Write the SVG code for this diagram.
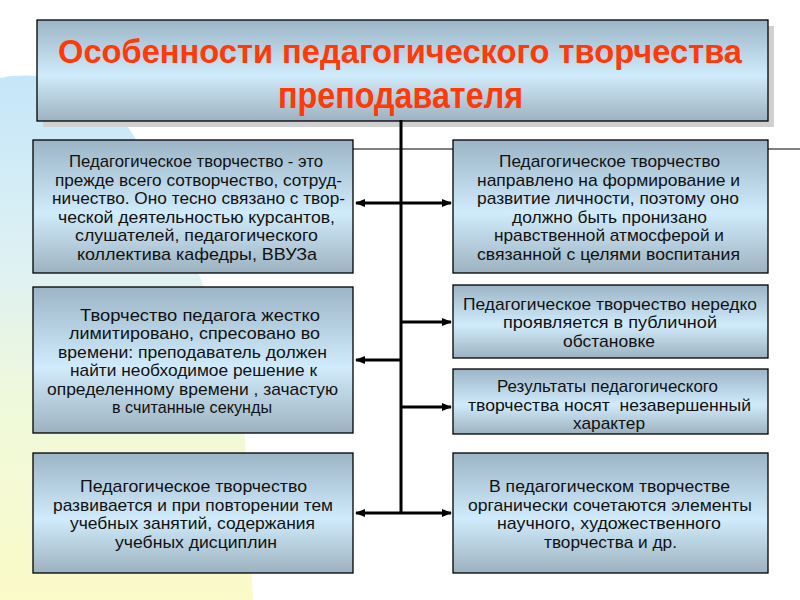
<svg xmlns="http://www.w3.org/2000/svg" width="800" height="600" viewBox="0 0 800 600">
<defs>
<linearGradient id="bg" x1="0" y1="0" x2="0" y2="1">
<stop offset="0" stop-color="#c6e6f9"/>
<stop offset="0.35" stop-color="#ddf1f4"/>
<stop offset="0.6" stop-color="#eef8dc"/>
<stop offset="1" stop-color="#fbfbc8"/>
</linearGradient>
<linearGradient id="box" x1="0" y1="0" x2="0" y2="1">
<stop offset="0" stop-color="#9bb5c7"/>
<stop offset="0.55" stop-color="#d0ebfb"/>
<stop offset="1" stop-color="#9db2c0"/>
</linearGradient>
<marker id="ah" markerUnits="userSpaceOnUse" markerWidth="10" markerHeight="10" viewBox="0 0 10 10" refX="9" refY="5" orient="auto-start-reverse">
<path d="M0,1 L10,5 L0,9 Z" fill="#000"/>
</marker>
<style>
.bx{fill:url(#box);stroke:#000;stroke-width:1.3}
.t{font-family:"Liberation Sans",Arial,sans-serif;font-size:17px;fill:#111;text-anchor:middle}
.ttl{font-family:"Liberation Sans",Arial,sans-serif;font-size:36px;font-weight:bold;fill:#ff3a08;text-anchor:middle}
.c{fill:none;stroke:#000;stroke-width:3}
</style>
</defs>
<rect width="800" height="600" fill="#fff"/>
<path d="M0,78 C50,68 100,90 130,130 C170,190 235,350 245,440 L253,600 L0,600 Z" fill="url(#bg)"/>
<line x1="353" y1="149" x2="800" y2="149" stroke="#000" stroke-width="1"/>

<g id="title">
<rect x="43" y="26" width="731" height="101" fill="#d0d0d0"/>
<rect x="37" y="20" width="731" height="101" class="bx"/>
<text x="400" y="63" class="ttl" style="font-size:34px" textLength="684" lengthAdjust="spacingAndGlyphs">Особенности педагогического творчества</text>
<text x="400.5" y="108" class="ttl" textLength="245" lengthAdjust="spacingAndGlyphs">преподавателя</text>
</g>

<g id="connectors">
<path class="c" d="M401,120 V514"/>
<path class="c" d="M356,203 H451" marker-start="url(#ah)" marker-end="url(#ah)"/>
<path class="c" d="M401,322 H451" marker-end="url(#ah)"/>
<path class="c" d="M401,360 H356" marker-end="url(#ah)"/>
<path class="c" d="M401,407 H451" marker-end="url(#ah)"/>
<path class="c" d="M356,513 H451" marker-start="url(#ah)" marker-end="url(#ah)"/>
</g>

<g id="l1">
<rect x="33" y="140" width="320" height="133" class="bx"/>
<text class="t" x="196" y="167" textLength="254" lengthAdjust="spacingAndGlyphs">Педагогическое творчество - это</text>
<text class="t" x="198.5" y="185.5" textLength="287" lengthAdjust="spacingAndGlyphs">прежде всего сотворчество, сотруд-</text>
<text class="t" x="198.5" y="204" textLength="293" lengthAdjust="spacingAndGlyphs">ничество. Оно тесно связано с твор-</text>
<text class="t" x="196.5" y="222.5" textLength="277" lengthAdjust="spacingAndGlyphs">ческой деятельностью курсантов,</text>
<text class="t" x="196.5" y="241" textLength="243" lengthAdjust="spacingAndGlyphs">слушателей, педагогического</text>
<text class="t" x="197" y="259.5" textLength="240" lengthAdjust="spacingAndGlyphs">коллектива кафедры, ВВУЗа</text>
</g>

<g id="r1">
<rect x="453" y="140" width="315" height="133" class="bx"/>
<text class="t" x="609.5" y="167" textLength="221" lengthAdjust="spacingAndGlyphs">Педагогическое творчество</text>
<text class="t" x="608.5" y="185.5" textLength="263" lengthAdjust="spacingAndGlyphs">направлено на формирование и</text>
<text class="t" x="608" y="204" textLength="262" lengthAdjust="spacingAndGlyphs">развитие личности, поэтому оно</text>
<text class="t" x="609.5" y="222.5" textLength="195" lengthAdjust="spacingAndGlyphs">должно быть пронизано</text>
<text class="t" x="609" y="241" textLength="230" lengthAdjust="spacingAndGlyphs">нравственной атмосферой и</text>
<text class="t" x="608.5" y="259.5" textLength="263" lengthAdjust="spacingAndGlyphs">связанной с целями воспитания</text>
</g>

<g id="l2">
<rect x="33" y="287" width="320" height="146" class="bx"/>
<text class="t" x="200" y="320.5" textLength="240" lengthAdjust="spacingAndGlyphs">Творчество педагога жестко</text>
<text class="t" x="194.5" y="339" textLength="251" lengthAdjust="spacingAndGlyphs">лимитировано, спресовано во</text>
<text class="t" x="192.5" y="357.5" textLength="269" lengthAdjust="spacingAndGlyphs">времени: преподаватель должен</text>
<text class="t" x="193.5" y="376" textLength="247" lengthAdjust="spacingAndGlyphs">найти необходимое решение к</text>
<text class="t" x="192.5" y="394.5" textLength="291" lengthAdjust="spacingAndGlyphs">определенному времени , зачастую</text>
<text class="t" x="192" y="413" textLength="160" lengthAdjust="spacingAndGlyphs">в считанные секунды</text>
</g>

<g id="r2">
<rect x="453" y="285" width="315" height="73" class="bx"/>
<text class="t" x="610" y="309.5" textLength="294" lengthAdjust="spacingAndGlyphs">Педагогическое творчество нередко</text>
<text class="t" x="610" y="328" textLength="214" lengthAdjust="spacingAndGlyphs">проявляется в публичной</text>
<text class="t" x="609" y="346.5" textLength="92" lengthAdjust="spacingAndGlyphs">обстановке</text>
</g>

<g id="r3">
<rect x="453" y="369" width="315" height="65" class="bx"/>
<text class="t" x="607.5" y="392" textLength="221" lengthAdjust="spacingAndGlyphs">Результаты педагогического</text>
<text class="t" x="609.5" y="410.5" textLength="283" lengthAdjust="spacingAndGlyphs" xml:space="preserve">творчества носят  незавершенный</text>
<text class="t" x="609" y="429" textLength="72" lengthAdjust="spacingAndGlyphs">характер</text>
</g>

<g id="l3">
<rect x="33" y="453" width="320" height="120" class="bx"/>
<text class="t" x="193.5" y="492" textLength="227" lengthAdjust="spacingAndGlyphs">Педагогическое творчество</text>
<text class="t" x="193" y="510.5" textLength="280" lengthAdjust="spacingAndGlyphs">развивается и при повторении тем</text>
<text class="t" x="192.5" y="529" textLength="245" lengthAdjust="spacingAndGlyphs">учебных занятий, содержания</text>
<text class="t" x="196" y="547.5" textLength="162" lengthAdjust="spacingAndGlyphs">учебных дисциплин</text>
</g>

<g id="r4">
<rect x="453" y="453" width="315" height="120" class="bx"/>
<text class="t" x="609.5" y="492" textLength="241" lengthAdjust="spacingAndGlyphs">В педагогическом творчестве</text>
<text class="t" x="610" y="510.5" textLength="284" lengthAdjust="spacingAndGlyphs">органически сочетаются элементы</text>
<text class="t" x="609" y="529" textLength="224" lengthAdjust="spacingAndGlyphs">научного, художественного</text>
<text class="t" x="610.5" y="547.5" textLength="133" lengthAdjust="spacingAndGlyphs">творчества и др.</text>
</g>
</svg>
